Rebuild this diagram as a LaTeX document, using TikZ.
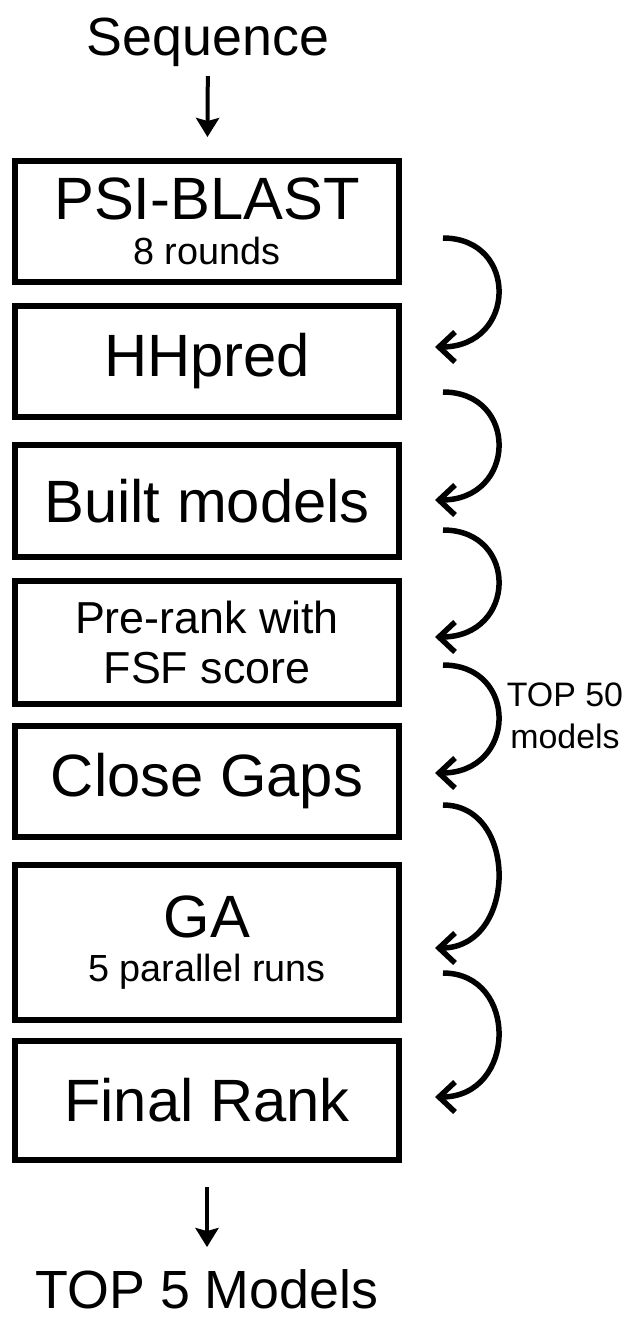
\documentclass[tikz,border=0pt]{standalone}
\usepackage{fontspec}
\setmainfont{Liberation Sans}
\usetikzlibrary{arrows.meta}

\begin{document}
\begin{tikzpicture}[x=0.02cm, y=-0.02cm,
  endlabel/.style={inner sep=0pt, outer sep=0pt, font=\fontsize{30.6}{36}\selectfont},
  stage/.style={draw, line width=0.12cm, minimum width=7.68cm, inner sep=0pt, align=center, font=\fontsize{34}{25.5}\selectfont},
  flow/.style={line width=0.08cm, -{Stealth[length=0.38cm, width=0.46cm, inset=0.06cm]}},
  loop/.style={line width=0.11cm, -{Straight Barb[length=0.32cm, width=0.6cm]}}]
\useasboundingbox (0,0) rectangle (627,1320);

\node[endlabel, anchor=base] (seq) at (208,55) {Sequence};
\node[stage, minimum height=2.42cm] (psiblast) at (207,221.5) {PSI-BLAST\\{\fontsize{21.5}{25.5}\selectfont 8 rounds}};
\node[stage, minimum height=2.22cm] (hhpred) at (207,361.5) {HHpred};
\node[stage, minimum height=2.24cm] (built) at (207,501) {Built models};
\node[stage, minimum height=2.46cm, font=\fontsize{25.5}{28.3}\selectfont] (prerank) at (207,642.5) {Pre-rank with\\FSF score};
\node[stage, minimum height=2.22cm] (gaps) at (207,781.5) {Close Gaps};
\node[stage, minimum height=3.1cm] (ga) at (207,942.5) {GA\\{\fontsize{21.5}{25.5}\selectfont 5 parallel runs}};
\node[stage, minimum height=2.38cm] (finalrank) at (207,1100.5) {Final Rank};
\node[endlabel, anchor=base] (top5) at (207,1308) {TOP 5 Models};

\draw[flow, shorten <=0.2cm, shorten >=0.42cm] (seq) -- (psiblast);
\draw[flow, shorten <=0.48cm, shorten >=0.44cm] (finalrank) -- (top5);

% hand-over arrows on the right
\foreach \s/\e [count=\i] in {238/347, 392/500, 530/637, 665/773, 805/948, 973/1097} {
  \coordinate (from\i) at (443,\s);
  \coordinate (to\i) at (435,\e);
  \draw[loop] (from\i) .. controls +(76,0) and +(82,0) .. (to\i);
}
\node[align=center, font=\fontsize{19.3}{24}\selectfont, inner sep=0pt] (top50) at (565,716) {TOP 50\\models};
\end{tikzpicture}
\end{document}
